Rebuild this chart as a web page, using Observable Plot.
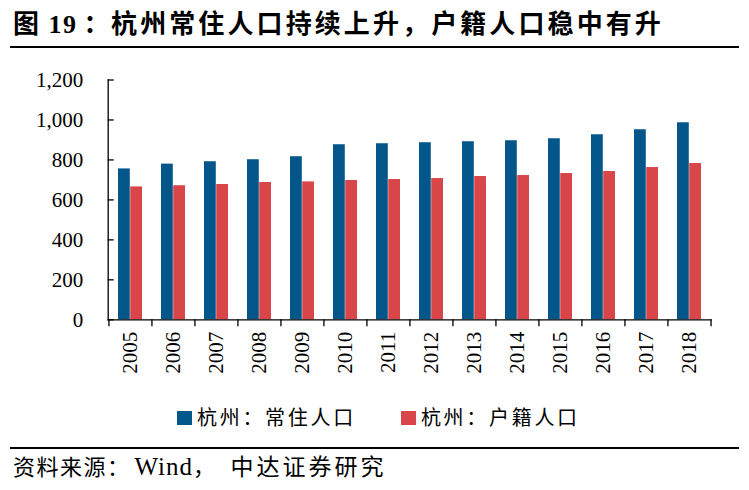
<!DOCTYPE html>
<html>
<head>
<meta charset="utf-8">
<script src="https://cdn.jsdelivr.net/npm/d3@7"></script>
<script src="https://cdn.jsdelivr.net/npm/@observablehq/plot@0.6"></script>
<style>
  html, body { margin: 0; padding: 0; background: #fff; }
  #page { position: relative; width: 749px; height: 490px; overflow: hidden; background: #fff;
          font-family: "Liberation Serif", "Noto Sans CJK SC", serif; color: #000; }
  #title { position: absolute; left: 13px; top: 9px; font-size: 26px; font-weight: bold; line-height: 32px; letter-spacing: 1.5px; white-space: nowrap; }
  #title .colon { margin-left: 6px; margin-right: 0px; }
  #title .main { letter-spacing: 3.1px; }
  .hr { position: absolute; left: 10px; width: 729px; height: 2px; background: #000; }
  #chart { position: absolute; left: 0; top: 55px; }
  #legend { position: absolute; left: 177px; top: 405px; display: flex; font-size: 20px; line-height: 26px; letter-spacing: 2.7px; white-space: nowrap; }
  #legend .item { display: flex; align-items: center; margin-right: 45px; }
  #legend .sw { display: inline-block; width: 15px; height: 14px; margin-right: 5px; }
  #source { position: absolute; left: 13px; top: 452px; font-size: 22px; line-height: 30px; letter-spacing: 1.5px; white-space: nowrap; }
  #source .lat { font-size: 25px; letter-spacing: 1px; margin-left: 4px; }
  #source .tail { font-size: 23px; letter-spacing: 3px; margin-left: 14px; }
</style>
</head>
<body>
<div id="page">
  <div id="title">图 19<span class="colon">：</span><span class="main">杭州常住人口持续上升，户籍人口稳中有升</span></div>
  <div class="hr" style="top:46px"></div>
  <div id="chart"></div>
  <div id="legend"></div>
  <div class="hr" style="top:447px"></div>
  <div id="source">资料来源：<span class="lat">Wind</span>，<span class="tail">中达证券研究</span></div>
</div>
<script>
const years = ["2005","2006","2007","2008","2009","2010","2011","2012","2013","2014","2015","2016","2017","2018"];
const resident = [755, 779, 791, 801, 816, 876, 881, 886, 891, 896, 906, 926, 951, 986];
const registered = [665, 671, 677, 687, 690, 697, 702, 707, 717, 722, 732, 742, 762, 782];
const seriesNames = ["杭州：常住人口", "杭州：户籍人口"];
const colors = ["#02568a", "#d9464a"];
const yTicks = [0, 200, 400, 600, 800, 1000, 1200];

const data = years.map((y, i) => ({year: y, resident: resident[i], registered: registered[i]}));

const W = 749, H = 340, ML = 107.7, MR = 37.3, MT = 24.5, MB = 75.7;
const padIn = 0.434, padOut = 0.217;
const step = (W - ML - MR) / (years.length - padIn + 2 * padOut);
const half = step * (1 - padIn) / 2;

const chart = Plot.plot({
  width: W, height: H,
  marginLeft: ML, marginRight: MR, marginTop: MT, marginBottom: MB,
  style: {fontFamily: "'Liberation Serif', serif", fontSize: "21px", color: "#000", background: "transparent", overflow: "visible"},
  x: {type: "band", domain: years, paddingInner: padIn, paddingOuter: padOut, axis: null},
  y: {domain: [0, 1200], axis: null},
  marks: [
    Plot.barY(data, {x: "year", y: "resident", fill: colors[0], insetRight: half}),
    Plot.barY(data, {x: "year", y: "registered", fill: colors[1], insetLeft: half}),
    Plot.frame({anchor: "left", stroke: "#000", strokeWidth: 1.3}),
    Plot.ruleY([0], {stroke: "#000", strokeWidth: 1.3}),
    Plot.ruleX(years, {x: d => d, dx: -step / 2, y1: 0, y2: -35, stroke: "#000", strokeWidth: 1.3}),
    Plot.ruleX([years[years.length - 1]], {x: d => d, dx: step / 2, y1: 0, y2: -35, stroke: "#000", strokeWidth: 1.3}),
    Plot.axisY({ticks: yTicks, tickSize: -6, tickPadding: 31, tickFormat: d3.format(","), fontSize: 21, stroke: "#000", strokeWidth: 1.3, label: null}),
    Plot.axisX({tickSize: 0, tickRotate: -90, tickPadding: 12, fontSize: 21, label: null})
  ]
});
document.getElementById("chart").appendChild(chart);

const legend = document.getElementById("legend");
seriesNames.forEach((name, i) => {
  const item = document.createElement("div");
  item.className = "item";
  const sw = document.createElement("span");
  sw.className = "sw";
  sw.style.background = colors[i];
  const t = document.createElement("span");
  t.textContent = name;
  item.appendChild(sw);
  item.appendChild(t);
  legend.appendChild(item);
});
</script>
</body>
</html>
